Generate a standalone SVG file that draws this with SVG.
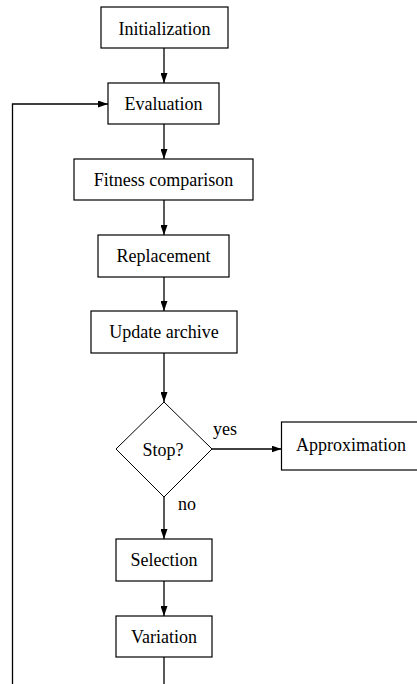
<svg xmlns="http://www.w3.org/2000/svg" width="417" height="684" viewBox="0 0 417 684">
<defs>
<marker id="ah" viewBox="0 0 10 7" refX="10" refY="3.5" markerWidth="10" markerHeight="7" markerUnits="userSpaceOnUse" orient="auto">
<path d="M0,0 L10,3.5 L0,7 Z" fill="#000"/>
</marker>
<style>
.box{fill:#fff;stroke:#000;stroke-width:1.2}
.t{font-family:"Liberation Serif","Times New Roman",serif;font-size:18px;fill:#000;text-anchor:middle}
.lbl{font-family:"Liberation Serif","Times New Roman",serif;font-size:18px;fill:#000}
.c{fill:none;stroke:#000;stroke-width:1.3;marker-end:url(#ah)}
.cn{fill:none;stroke:#000;stroke-width:1.3}
</style>
</defs>
<rect width="417" height="684" fill="#fff"/>
<g id="connectors">
<line class="c" x1="164" y1="48" x2="164" y2="83"/>
<line class="c" x1="164" y1="124" x2="164" y2="159"/>
<line class="c" x1="164" y1="200" x2="164" y2="235"/>
<line class="c" x1="164" y1="277" x2="164" y2="311"/>
<line class="c" x1="164" y1="353" x2="164" y2="402"/>
<line class="c" x1="212" y1="449" x2="281.5" y2="449"/>
<line class="c" x1="164" y1="497" x2="164" y2="539"/>
<line class="c" x1="164" y1="581" x2="164" y2="616"/>
<line class="cn" x1="164" y1="657" x2="164" y2="684"/>
<polyline class="c" points="12.5,684 12.5,104 108,104"/>
<text class="lbl" x="213" y="435">yes</text>
<text class="lbl" x="178" y="510">no</text>
</g>
<g id="initialization">
<rect class="box" x="101" y="7" width="127" height="41"/>
<text class="t" x="164.5" y="34.5">Initialization</text>
</g>
<g id="evaluation">
<rect class="box" x="108" y="83" width="111" height="41"/>
<text class="t" x="163.5" y="110">Evaluation</text>
</g>
<g id="fitness">
<rect class="box" x="74" y="159" width="179" height="41"/>
<text class="t" x="163.5" y="186">Fitness comparison</text>
</g>
<g id="replacement">
<rect class="box" x="98" y="235" width="131" height="42"/>
<text class="t" x="163.5" y="262">Replacement</text>
</g>
<g id="update">
<rect class="box" x="91" y="311" width="146" height="42"/>
<text class="t" x="164" y="338">Update archive</text>
</g>
<g id="stop">
<polygon points="164,402 212,449 164,497 116,449" fill="#fff" stroke="#000" stroke-width="1"/>
<text class="t" x="163" y="456">Stop?</text>
</g>
<g id="approximation">
<rect class="box" x="281.5" y="422" width="140" height="48"/>
<text class="t" x="351" y="451">Approximation</text>
</g>
<g id="selection">
<rect class="box" x="116" y="539" width="96" height="42"/>
<text class="t" x="164" y="566">Selection</text>
</g>
<g id="variation">
<rect class="box" x="116" y="616" width="96" height="41"/>
<text class="t" x="164" y="643">Variation</text>
</g>
</svg>
